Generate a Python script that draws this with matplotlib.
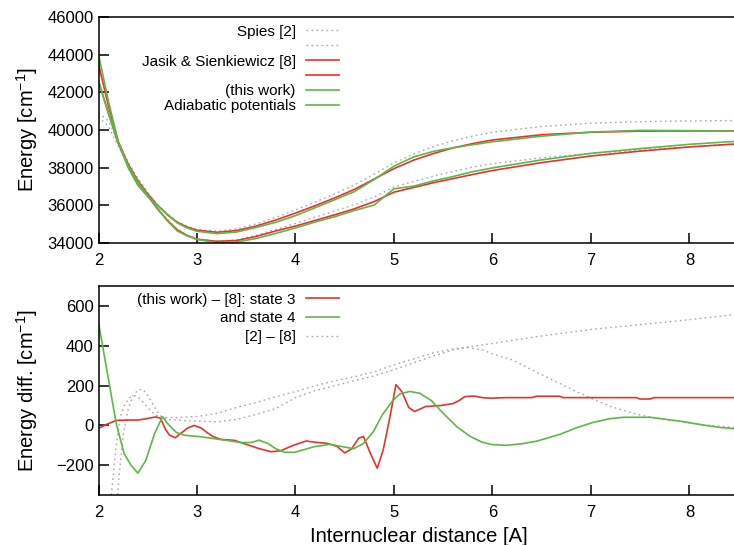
import matplotlib
matplotlib.use("Agg")
import matplotlib.pyplot as plt

plt.rcParams['font.family'] = ['Liberation Sans', 'DejaVu Sans']
plt.rcParams['mathtext.fontset'] = 'custom'
plt.rcParams['mathtext.rm'] = 'Liberation Sans'

RED = '#e8322c'
GREEN = '#5cb848'
GRAY = '#a8a8a8'

# top panel: adiabatic potentials (cm^-1) on a common grid of R
r = [2.0, 2.1, 2.2, 2.3, 2.4, 2.5, 2.6, 2.7, 2.8, 2.9, 3.0, 3.2, 3.4, 3.6, 3.8, 4.0,
     4.2, 4.4, 4.6, 4.8, 5.0, 5.2, 5.4, 5.6, 5.8, 6.0, 6.5, 7.0, 7.5, 8.0, 8.5]

jasik_3 = [42600, 40900, 39300, 38100, 37200, 36500, 35800, 35200, 34700, 34400, 34200,
           34090, 34130, 34350, 34640, 34900, 35200, 35500, 35820, 36200, 36700, 36950,
           37200, 37420, 37640, 37850, 38270, 38620, 38880, 39100, 39270]
jasik_4 = [43500, 41300, 39400, 38200, 37300, 36600, 36000, 35500, 35100, 34850, 34680,
           34570, 34660, 34900, 35220, 35590, 35980, 36400, 36850, 37400, 37950, 38400,
           38750, 39050, 39280, 39470, 39750, 39880, 39940, 39950, 39950]
this_3 = [42585, 40905, 39325, 38125, 37225, 36530, 35840, 35170, 34640, 34380, 34195,
          34020, 34050, 34240, 34510, 34800, 35114, 35400, 35730, 36020, 36880, 37020,
          37298, 37530, 37788, 37987, 38415, 38760, 39013, 39240, 39410]
this_4 = [44020, 41540, 39380, 38010, 37060, 36460, 36000, 35510, 35065, 34800, 34625,
          34500, 34580, 34825, 35100, 35455, 35875, 36300, 36735, 37375, 38080, 38570,
          38865, 39060, 39220, 39375, 39675, 39890, 39980, 39965, 39935]
spies_3 = [40700, 40200, 39150, 38180, 37375, 36620, 35850, 35250, 34725, 34420, 34220,
           34105, 34160, 34405, 34725, 35040, 35375, 35700, 36045, 36450, 36980, 37265,
           37550, 37800, 38030, 38210, 38525, 38760, 38935, 39110, 39255]
spies_4 = [40900, 40500, 39350, 38300, 37440, 36690, 36045, 35540, 35140, 34890, 34720,
           34630, 34750, 35015, 35360, 35755, 36175, 36615, 37090, 37665, 38255, 38735,
           39115, 39435, 39675, 39880, 40190, 40360, 40445, 40480, 40505]

# bottom panel: differences (cm^-1)
r_d3 = [2.0, 2.08, 2.18, 2.3, 2.4, 2.5, 2.58, 2.63, 2.68, 2.72, 2.78, 2.84, 2.9, 2.97,
        3.04, 3.1, 3.16, 3.24, 3.38, 3.5, 3.62, 3.75, 3.85, 3.92, 3.99, 4.05, 4.11, 4.19,
        4.32, 4.42, 4.5, 4.57, 4.64, 4.69, 4.76, 4.83, 4.89, 4.96, 5.02, 5.08, 5.15, 5.21,
        5.32, 5.47, 5.6, 5.66, 5.72, 5.81, 5.9, 5.98, 6.14, 6.4, 6.45, 6.68, 6.72, 7.46,
        7.5, 7.6, 7.64, 8.5]
d3 = [-15, 5, 25, 27, 27, 35, 43, 36, -20, -48, -62, -38, -15, 0,
      -12, -35, -55, -70, -75, -95, -115, -132, -128, -112, -98, -88, -78, -84,
      -90, -105, -138, -118, -65, -55, -140, -215, -125, 45, 205, 170, 90, 70,
      95, 100, 110, 125, 145, 148, 140, 137, 140, 140, 147, 147, 140, 140,
      133, 133, 140, 140]

r_d4 = [2.0, 2.09, 2.18, 2.26, 2.33, 2.4, 2.48, 2.57, 2.65, 2.7, 2.79, 2.87, 3.04, 3.24,
        3.45, 3.55, 3.63, 3.72, 3.8, 3.89, 3.99, 4.12, 4.18, 4.35, 4.49, 4.59, 4.69, 4.79,
        4.88, 4.98, 5.06, 5.16, 5.26, 5.38, 5.5, 5.64, 5.77, 5.89, 5.99, 6.14, 6.3, 6.45,
        6.69, 6.85, 7.02, 7.19, 7.33, 7.6, 7.77, 7.94, 8.14, 8.31, 8.5]
d4 = [517, 264, 10, -142, -200, -240, -176, -40, 44, 10, -35, -49, -57, -71,
      -86, -86, -74, -91, -117, -135, -135, -117, -108, -95, -108, -117, -91, -32,
      52, 120, 159, 171, 162, 125, 61, -7, -54, -83, -96, -100, -92, -79,
      -44, -12, 15, 34, 41, 41, 30, 19, 2, -10, -18]

r_s4 = [2.10, 2.14, 2.18, 2.22, 2.27, 2.32, 2.38, 2.43, 2.5, 2.57, 2.65, 2.8, 3.0, 3.2,
        3.4, 3.6, 3.8, 4.0, 4.2, 4.4, 4.6, 4.8, 5.0, 5.2, 5.4, 5.6, 5.75, 6.0, 6.25, 6.5,
        7.0, 7.5, 8.0, 8.5]
s4 = [-500, -300, -100, 40, 110, 140, 150, 130, 90, 55, 40, 40, 45, 60,
      90, 115, 145, 170, 200, 225, 245, 270, 305, 335, 365, 385, 395, 412, 432, 450,
      483, 507, 532, 560]

r_s3 = [2.17, 2.21, 2.25, 2.3, 2.35, 2.4, 2.45, 2.5, 2.56, 2.62, 2.7, 2.85, 3.0, 3.2,
        3.4, 3.6, 3.8, 4.0, 4.2, 4.4, 4.6, 4.8, 5.0, 5.2, 5.4, 5.6, 5.75, 5.9, 6.0, 6.2,
        6.5, 6.85, 7.0, 7.2, 7.5, 7.8, 8.1, 8.5]
s3 = [-500, -250, -50, 80, 150, 178, 182, 150, 100, 50, 30, 25, 22, 18,
      30, 55, 85, 140, 175, 200, 225, 250, 280, 315, 350, 380, 392, 380, 360, 330,
      255, 171, 137, 95, 52, 27, 5, -12]

fig = plt.figure(figsize=(7.34, 5.45), dpi=100)
ax1 = fig.add_axes([0.1342, 0.5541, 0.8722, 0.4147])
ax2 = fig.add_axes([0.1342, 0.0917, 0.8722, 0.3830])

dots = dict(ls=(0, (1.2, 2.4)), lw=1.0, color=GRAY)

# top panel
ax1.plot(r, spies_4, label='Spies [2]', **dots)
ax1.plot(r, spies_3, label=' ', **dots)
ax1.plot(r, jasik_4, color=RED, lw=1.2, label='Jasik & Sienkiewicz [8]')
ax1.plot(r, jasik_3, color=RED, lw=1.2, label=' ')
ax1.plot(r, this_4, color=GREEN, lw=1.2, label='(this work)')
ax1.plot(r, this_3, color=GREEN, lw=1.2, label='Adiabatic potentials')
ax1.set_ylim(34000, 46000)
ax1.set_yticks(range(34000, 46001, 2000))
ax1.set_ylabel('Energy [cm$^{-1}$]', fontsize=14.5)

# bottom panel
ax2.plot(r_s4, s4, **dots)
ax2.plot(r_s3, s3, **dots)
ax2.plot(r_d3, d3, color=RED, lw=1.2, label='(this work) – [8]: state 3')
ax2.plot(r_d4, d4, color=GREEN, lw=1.2, label='and state 4')
ax2.plot([], [], label='[2] – [8]', **dots)
ax2.set_ylim(-350, 700)
ax2.set_yticks([-200, 0, 200, 400, 600])
ax2.set_ylabel('Energy diff. [cm$^{-1}$]', fontsize=14.5)
ax2.set_xlabel('Internuclear distance [A]', fontsize=14.5, labelpad=5)

for ax in (ax1, ax2):
    ax.set_xlim(2, 8.5)
    ax.set_xticks(range(2, 9))
    ax.tick_params(direction='in', length=7, width=1.1, labelsize=12,
                   top=False, right=False)
    ax.tick_params(axis='x', pad=7)
    ax.tick_params(axis='y', pad=3.5)
    for s in ax.spines.values():
        s.set_linewidth(1.1)
    ax.yaxis.set_label_coords(-0.092, 0.5)

ax1.legend(loc='upper right', bbox_to_anchor=(0.376, 0.966), frameon=False,
           markerfirst=False, fontsize=11, handlelength=2.15, handletextpad=0.7,
           labelspacing=0.06, borderpad=0, borderaxespad=0)
ax2.legend(loc='upper right', bbox_to_anchor=(0.376, 0.970), frameon=False,
           markerfirst=False, fontsize=11, handlelength=2.15, handletextpad=0.7,
           labelspacing=0.31, borderpad=0, borderaxespad=0)

fig.savefig('out.png', dpi=100)
